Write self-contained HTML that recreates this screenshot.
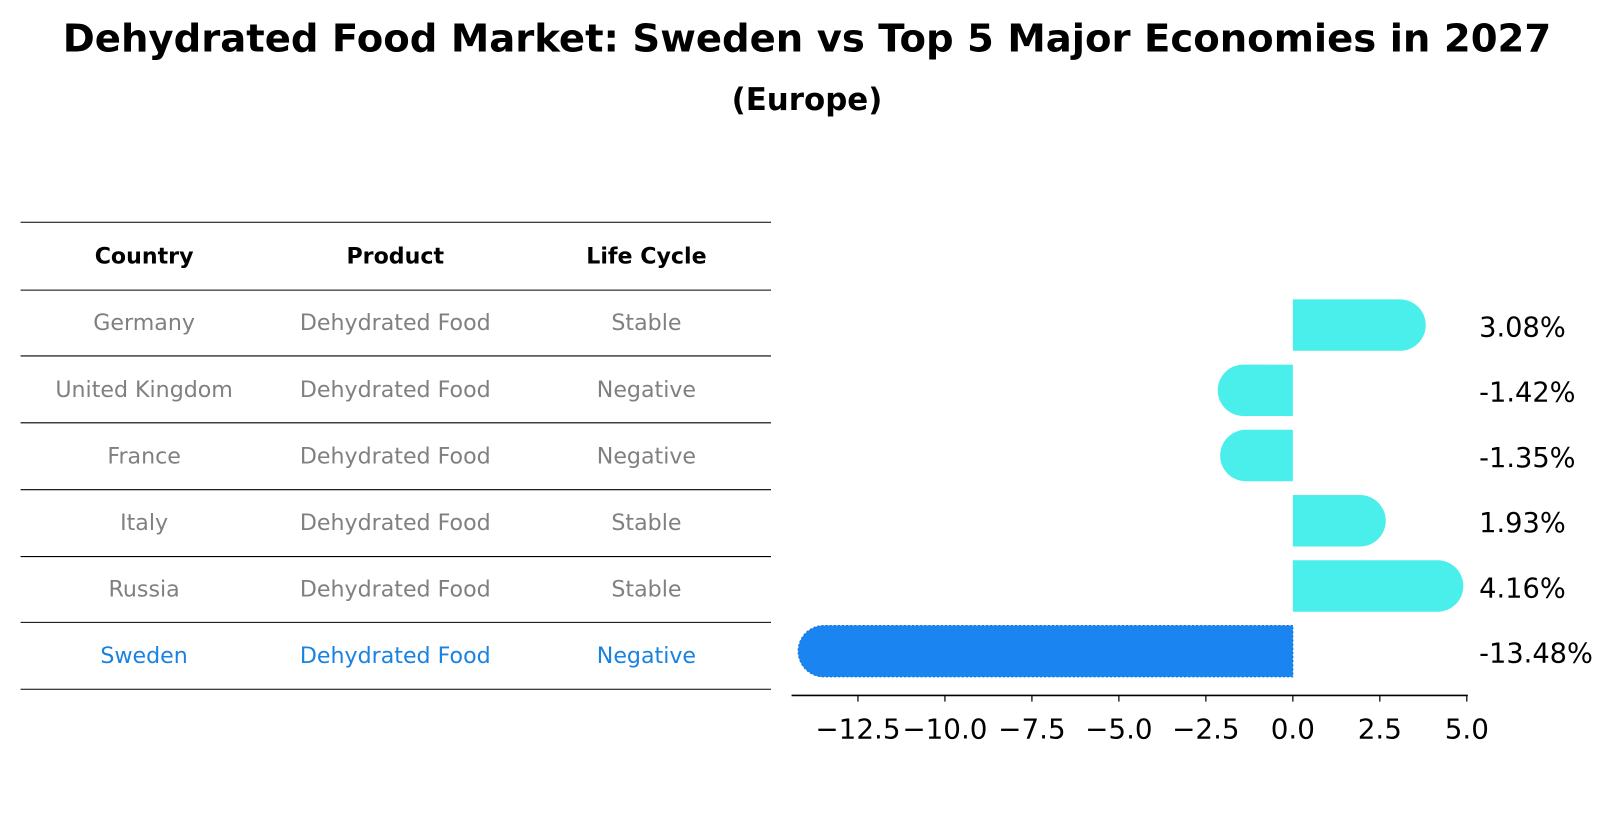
<!DOCTYPE html>
<html><head><meta charset="utf-8">
<style>
html,body{margin:0;padding:0;background:#fff;}
svg{display:block;font-family:"DejaVu Sans","Liberation Sans",sans-serif;}
</style></head>
<body>
<svg id="chart" width="1614" height="823" viewBox="0 0 1568 800" preserveAspectRatio="none" xmlns="http://www.w3.org/2000/svg">
<text x="784" y="50" text-anchor="middle" font-size="37.5" font-weight="bold">Dehydrated Food Market: Sweden vs Top 5 Major Economies in 2027</text>
<text x="784" y="107" text-anchor="middle" font-size="30" font-weight="bold">(Europe)</text>
<g id="table"></g>
<g id="bars"></g>
<g id="axis"></g>
</svg>
<script>
const countries = ["Germany","United Kingdom","France","Italy","Russia","Sweden"];
const products = ["Dehydrated Food","Dehydrated Food","Dehydrated Food","Dehydrated Food","Dehydrated Food","Dehydrated Food"];
const lifeCycles = ["Stable","Negative","Negative","Stable","Stable","Negative"];
const growthValues = [3.08,-1.42,-1.35,1.93,4.16,-13.48];
const tickValues = [-12.5,-10,-7.5,-5,-2.5,0,2.5,5];
const tickLabels = ["\u221212.5","\u221210.0","\u22127.5","\u22125.0","\u22122.5","0.0","2.5","5.0"];

const NS="http://www.w3.org/2000/svg";
function mk(tag,attrs,parent){const e=document.createElementNS(NS,tag);for(const k in attrs)e.setAttribute(k,attrs[k]);parent.appendChild(e);return e;}
const xScale=v=>1256+v*33.8;
const rowY=i=>316+i*63.4;
const capR=25;

// table
const table=document.getElementById('table');
const lineYs=[216,282,346,411,476,541,605,670];
lineYs.forEach((y,i)=>{
  const l=mk('line',{x1:20,x2:749,y1:y,y2:y,stroke:'#000','stroke-width':1},table);
  
  
});
const colX=[140,384,628];
["Country","Product","Life Cycle"].forEach((h,j)=>{
  const t=mk('text',{x:colX[j],y:256,'text-anchor':'middle','font-size':21.5,'font-weight':'bold'},table);
  t.textContent=h;
  
  
});
countries.forEach((c,i)=>{
  const y=321+i*64.7;
  const col=c==="Sweden"?"#1a82e0":"#808080";
  [c,products[i],lifeCycles[i]].forEach((v,j)=>{
    const t=mk('text',{x:colX[j],y:y,'text-anchor':'middle','font-size':21.5,fill:col},table);
    t.textContent=v;
    
    
  });
});

// bars
const bars=document.getElementById('bars');
growthValues.forEach((v,i)=>{
  const cy=rowY(i), h=50, top=cy-h/2, x0=xScale(0), x1=xScale(v);
  const isSw=countries[i]==="Sweden";
  const fill=isSw?"#1a85f0":"#4aeeea";
  const dir=v>=0?1:-1;
  const d=`M${x0},${top} L${x1},${top} A${capR},${h/2} 0 0 ${dir>0?1:0} ${x1},${top+h} L${x0},${top+h} Z`;
  const p=mk('path',{d:d,fill:fill},bars);
  if(isSw){p.setAttribute('stroke','#1570d0');p.setAttribute('stroke-dasharray','2 2');p.setAttribute('stroke-width','1');}
  
  
  const t=mk('text',{x:1437,y:cy+11,'font-size':26.5},bars);
  t.textContent=v.toFixed(2)+"%";
  
  
});

// axis
const axis=document.getElementById('axis');
const al=mk('line',{x1:769,x2:1426,y1:676,y2:676,stroke:'#000','stroke-width':1.5},axis);


tickValues.forEach((v,i)=>{
  const x=xScale(v);
  const tl=mk('line',{x1:x,x2:x,y1:676,y2:682,stroke:'#000','stroke-width':1.2},axis);
  
  
  const t=mk('text',{x:x,y:718,'text-anchor':'middle','font-size':27},axis);
  t.textContent=tickLabels[i];
  
  
});
</script>
</body></html>
